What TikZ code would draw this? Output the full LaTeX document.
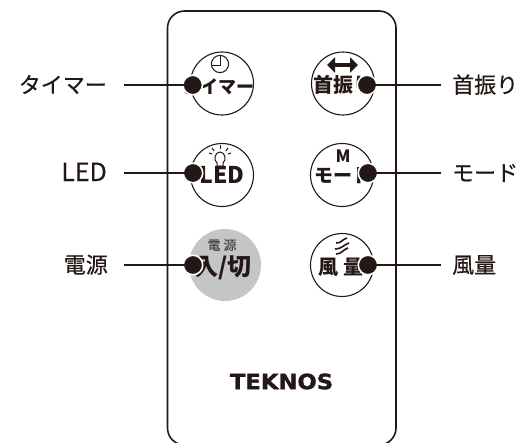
\documentclass[tikz,border=0pt]{standalone}
\usepackage{fontspec}
\setmainfont{Noto Sans CJK JP}
\newfontfamily\logofont[BoldFeatures={FakeBold=1.5}]{DejaVu Sans}
\newfontfamily\labelfont[FakeBold=0.5]{Noto Sans CJK JP}
\usetikzlibrary{arrows.meta}
\definecolor{inkblack}{HTML}{231815}
\definecolor{powergray}{HTML}{C4C5C6}
\definecolor{powerink}{HTML}{4A4546}
\tikzset{
    keyring/.style={circle,draw=inkblack,line width=1.1pt,minimum size=63pt,inner sep=0pt},
    keydot/.style={circle,fill=inkblack,draw=white,line width=1.6pt,minimum size=19.5pt,inner sep=0pt},
    keytext/.style={inner sep=0pt,text=inkblack,font=\bfseries\fontsize{#1}{#1}\selectfont},
    calloutl/.style={anchor=east,inner sep=0pt,inner xsep=#1,text=inkblack,text height=16pt,text depth=0pt,font=\labelfont\fontsize{22}{22}\selectfont},
    calloutr/.style={anchor=west,inner sep=0pt,inner xsep=#1,text=inkblack,text height=16pt,text depth=0pt,font=\labelfont\fontsize{22}{22}\selectfont},
    leader/.style={draw=inkblack,line width=1.1pt}
}
\begin{document}
\begin{tikzpicture}[x=1pt,y=-1pt]
    \clip (0,0) rectangle (517,442);

    % Remote body
    \node[inner sep=0pt,text=inkblack,xscale=1.08,font=\logofont\bfseries\fontsize{21}{21}\selectfont] (logo) at (281.5,381.5) {TEKNOS};
    \draw[draw=inkblack,line width=1.6pt,rounded corners=17pt] (167.5,11) rectangle (396,445);

    % Buttons
    \node[keyring] (timerkey) at (222,83.5) {};
    \node[keyring] (swingkey) at (343,83.5) {};
    \node[keyring] (ledkey) at (222,175) {};
    \node[keyring] (modekey) at (342,175) {};
    \node[circle,fill=powergray,minimum size=72pt,inner sep=0pt] (powerkey) at (225,265) {};
    \node[keyring] (windkey) at (342,265) {};

    % Button texts
    \node[keytext=18] (timertext) at (218,87) {タイマー};
    \node[keytext=20] (swingtext) at (343,85) {首振り};
    \node[keytext=23] (ledtext) at (222,175) {LED};
    \node[keytext=19] (modetext) at (343,175) {モード};
    \node[keytext=17] (mtext) at (343,156) {M};
    \node[keytext=20] (windtext) at (341,267) {風 量};
    \node[keytext=24] (powertext) at (223,268) {入/切};
    \node[inner sep=0pt,text=powerink,font=\labelfont\fontsize{13}{13}\selectfont] (powertop) at (222,245) {電 源};

    % Icons
    \draw[inkblack,line width=1pt] (220,64) circle (8.6);
    \draw[inkblack,line width=1pt] (220,56) -- (220,65) -- (212,65);
    \draw[inkblack,line width=4pt,{Triangle[length=8pt,width=15pt]}-{Triangle[length=8pt,width=15pt]}] (327,65) -- (358,65);
    \draw[inkblack,line width=1pt] (217,166) -- (217,163) .. controls (213,160) and (215,152) .. (220,152) .. controls (225,152) and (227,160) .. (223,163) -- (223,166) -- cycle;
    \draw[inkblack,line width=1pt] (212,148) -- (214,151);
    \draw[inkblack,line width=1pt] (220,145) -- (220,149);
    \draw[inkblack,line width=1pt] (228,148) -- (226,151);
    \draw[inkblack,line width=1pt] (209,153) -- (212,154);
    \draw[inkblack,line width=1pt] (231,153) -- (228,154);
    \draw[inkblack,line width=1.6pt] (336,243) .. controls (342,243) and (341,240) .. (347,238);
    \draw[inkblack,line width=1.6pt] (335,249) .. controls (342,249) and (343,245) .. (349,243);
    \draw[inkblack,line width=1.6pt] (336,254) .. controls (342,254) and (342,250) .. (348,248);

    % Dots
    \node[keydot] (timerdot) at (192.7,85) {};
    \node[keydot] (swingdot) at (367,85) {};
    \node[keydot] (leddot) at (193,173) {};
    \node[keydot] (modedot) at (368,173) {};
    \node[keydot] (powerdot) at (193,265) {};
    \node[keydot] (winddot) at (368,265) {};

    % Labels
    \node[calloutl=17pt] (timerlabel) at (124,85) {タイマー};
    \node[calloutl=17pt,font=\labelfont\fontsize{25}{25}\selectfont] (ledlabel) at (124,173) {LED};
    \node[calloutl=16pt] (powerlabel) at (124,265) {電源};
    \node[calloutr=11pt] (swinglabel) at (441,85) {首振り};
    \node[calloutr=11pt] (modelabel) at (441,173) {モード};
    \node[calloutr=11pt] (windlabel) at (441,265) {風量};

    % Leader lines
    \draw[leader] (timerlabel.east) -- (timerdot.center);
    \draw[leader] (ledlabel.east) -- (leddot.center);
    \draw[leader] (powerlabel.east) -- (powerdot.center);
    \draw[leader] (swinglabel.west) -- (swingdot.center);
    \draw[leader] (modelabel.west) -- (modedot.center);
    \draw[leader] (windlabel.west) -- (winddot.center);
\end{tikzpicture}
\end{document}
